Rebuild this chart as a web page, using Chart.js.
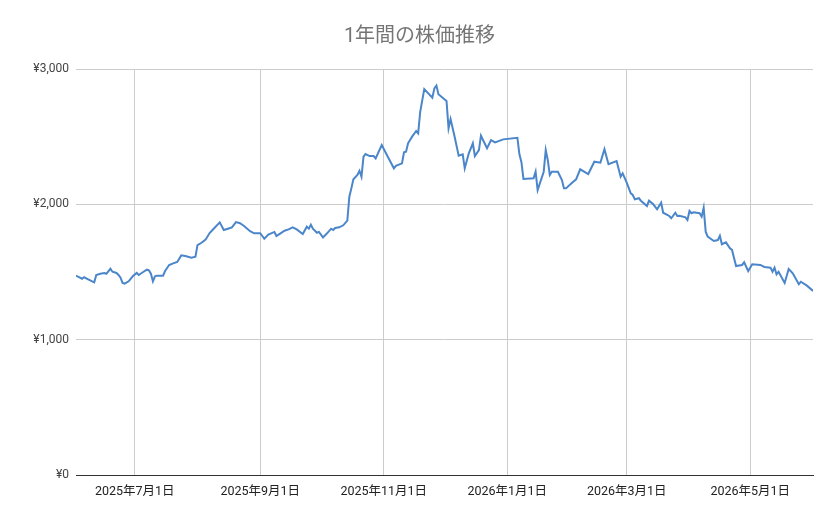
<!DOCTYPE html>
<html lang="ja">
<head>
  <meta charset="UTF-8" />
  <title>1年間の株価推移</title>
  <script src="https://cdn.jsdelivr.net/npm/chart.js"></script>
  <style>
    body {
      margin: 0;
      background: #fff;
    }
  </style>
</head>
<body>
  <canvas id="stockChart" width="839" height="519"></canvas>

  <script>
    const title = "1年間の株価推移";

    // 日付と終値(チャートから読み取り)
    const dates = [
      "2025-06-02", "2025-06-03", "2025-06-05", "2025-06-06", "2025-06-08", "2025-06-10", "2025-06-11", "2025-06-12",
      "2025-06-14", "2025-06-16", "2025-06-17", "2025-06-19", "2025-06-20", "2025-06-22", "2025-06-23", "2025-06-24",
      "2025-06-25", "2025-06-26", "2025-06-28", "2025-06-29", "2025-06-30", "2025-07-02", "2025-07-03", "2025-07-05",
      "2025-07-07", "2025-07-08", "2025-07-09", "2025-07-10", "2025-07-11", "2025-07-12", "2025-07-15", "2025-07-16",
      "2025-07-18", "2025-07-20", "2025-07-22", "2025-07-24", "2025-07-26", "2025-07-29", "2025-07-31", "2025-08-01",
      "2025-08-03", "2025-08-05", "2025-08-07", "2025-08-09", "2025-08-12", "2025-08-14", "2025-08-16", "2025-08-18",
      "2025-08-20", "2025-08-22", "2025-08-24", "2025-08-27", "2025-08-29", "2025-09-01", "2025-09-02", "2025-09-03",
      "2025-09-05", "2025-09-08", "2025-09-09", "2025-09-11", "2025-09-13", "2025-09-15", "2025-09-17", "2025-09-19",
      "2025-09-22", "2025-09-24", "2025-09-25", "2025-09-26", "2025-09-27", "2025-09-29", "2025-09-30", "2025-10-02",
      "2025-10-04", "2025-10-06", "2025-10-07", "2025-10-08", "2025-10-10", "2025-10-12", "2025-10-14", "2025-10-15",
      "2025-10-16", "2025-10-17", "2025-10-19", "2025-10-20", "2025-10-21", "2025-10-22", "2025-10-23", "2025-10-25",
      "2025-10-27", "2025-10-28", "2025-10-31", "2025-11-03", "2025-11-06", "2025-11-07", "2025-11-10", "2025-11-11",
      "2025-11-12", "2025-11-13", "2025-11-15", "2025-11-17", "2025-11-18", "2025-11-19", "2025-11-21", "2025-11-25",
      "2025-11-26", "2025-11-27", "2025-11-28", "2025-12-02", "2025-12-03", "2025-12-04", "2025-12-06", "2025-12-08",
      "2025-12-10", "2025-12-11", "2025-12-13", "2025-12-15", "2025-12-16", "2025-12-18", "2025-12-19", "2025-12-22",
      "2025-12-24", "2025-12-26", "2025-12-30", "2026-01-06", "2026-01-07", "2026-01-08", "2026-01-09", "2026-01-14",
      "2026-01-15", "2026-01-16", "2026-01-19", "2026-01-20", "2026-01-21", "2026-01-22", "2026-01-23", "2026-01-26",
      "2026-01-28", "2026-01-29", "2026-01-30", "2026-02-02", "2026-02-04", "2026-02-06", "2026-02-10", "2026-02-13",
      "2026-02-16", "2026-02-18", "2026-02-20", "2026-02-24", "2026-02-26", "2026-02-27", "2026-03-01", "2026-03-03",
      "2026-03-04", "2026-03-05", "2026-03-07", "2026-03-08", "2026-03-11", "2026-03-12", "2026-03-14", "2026-03-16",
      "2026-03-18", "2026-03-19", "2026-03-22", "2026-03-23", "2026-03-25", "2026-03-26", "2026-03-27", "2026-03-30",
      "2026-03-31", "2026-04-01", "2026-04-02", "2026-04-03", "2026-04-06", "2026-04-07", "2026-04-08", "2026-04-09",
      "2026-04-10", "2026-04-13", "2026-04-15", "2026-04-16", "2026-04-17", "2026-04-19", "2026-04-21", "2026-04-22",
      "2026-04-24", "2026-04-27", "2026-04-28", "2026-04-30", "2026-05-02", "2026-05-06", "2026-05-08", "2026-05-11",
      "2026-05-12", "2026-05-13", "2026-05-14", "2026-05-15", "2026-05-18", "2026-05-20", "2026-05-22", "2026-05-25",
      "2026-05-26", "2026-05-29", "2026-06-01"
    ];

    const prices = [
      1473, 1465, 1450, 1461, 1446, 1431, 1424, 1478,
      1487, 1493, 1487, 1524, 1502, 1493, 1478, 1458,
      1419, 1414, 1431, 1450, 1468, 1493, 1478, 1498,
      1517, 1513, 1487, 1431, 1468, 1473, 1473, 1507,
      1552, 1564, 1574, 1623, 1618, 1606, 1613, 1699,
      1716, 1739, 1788, 1820, 1867, 1810, 1820, 1830,
      1869, 1860, 1840, 1801, 1786, 1786, 1766, 1746,
      1776, 1796, 1766, 1786, 1805, 1815, 1830, 1815,
      1781, 1835, 1820, 1849, 1820, 1790, 1796, 1756,
      1786, 1820, 1810, 1825, 1830, 1845, 1879, 2056,
      2118, 2185, 2217, 2248, 2204, 2352, 2372, 2357,
      2357, 2340, 2438, 2352, 2266, 2285, 2303, 2384,
      2389, 2451, 2500, 2542, 2525, 2684, 2852, 2788,
      2857, 2877, 2813, 2763, 2562, 2630, 2500, 2359,
      2370, 2266, 2377, 2451, 2357, 2401, 2507, 2414,
      2475, 2458, 2480, 2492, 2370, 2311, 2187, 2192,
      2241, 2106, 2241, 2401, 2328, 2217, 2241, 2241,
      2180, 2118, 2118, 2160, 2185, 2259, 2224, 2315,
      2308, 2407, 2296, 2320, 2204, 2229, 2160, 2081,
      2069, 2037, 2045, 2027, 1988, 2027, 2002, 1963,
      2012, 1938, 1914, 1897, 1938, 1914, 1916, 1904,
      1884, 1951, 1934, 1941, 1934, 1909, 1975, 1798,
      1761, 1729, 1736, 1768, 1705, 1719, 1675, 1663,
      1544, 1552, 1572, 1507, 1557, 1552, 1537, 1532,
      1502, 1532, 1483, 1502, 1419, 1522, 1490, 1409,
      1428, 1399, 1360
    ];

    // 目盛り
    const xTickDates = ["2025-07-01", "2025-09-01", "2025-11-01", "2026-01-01", "2026-03-01", "2026-05-01"];
    const xTickLabels = ["2025年7月1日", "2025年9月1日", "2025年11月1日", "2026年1月1日", "2026年3月1日", "2026年5月1日"];
    const yTicks = [0, 1000, 2000, 3000];

    const FONT = "Roboto, 'Noto Sans CJK JP', sans-serif";
    const xValues = dates.map(d => Date.parse(d));
    const tickValues = xTickDates.map(d => Date.parse(d));

    const ctx = document.getElementById("stockChart").getContext("2d");
    new Chart(ctx, {
      type: "line",
      data: {
        datasets: [
          {
            label: "株価",
            data: xValues.map((x, i) => ({ x: x, y: prices[i] })),
            borderColor: "#4a86c9",
            borderWidth: 2,
            pointRadius: 0,
            tension: 0,
          },
        ],
      },
      options: {
        responsive: false,
        animation: false,
        layout: { padding: { left: 26, right: 26, top: 0, bottom: 14 } },
        plugins: {
          legend: { display: false },
          tooltip: { enabled: false },
          title: {
            display: true,
            text: title,
            color: "#757575",
            font: { family: FONT, size: 20, weight: "normal" },
            padding: { top: 25, bottom: 20 },
          },
        },
        scales: {
          x: {
            type: "linear",
            min: xValues[0],
            max: xValues[xValues.length - 1],
            afterBuildTicks: scale => {
              scale.ticks = tickValues.map(v => ({ value: v }));
            },
            afterFit: scale => {
              scale.height = 30;
            },
            grid: { color: "#cccccc", drawTicks: false },
            border: { display: true, color: "#333333", width: 1 },
            ticks: {
              padding: 9,
              maxRotation: 0,
              autoSkip: false,
              color: "#222222",
              font: { family: FONT, size: 12.5 },
              callback: value => xTickLabels[tickValues.indexOf(value)],
            },
          },
          y: {
            min: 0,
            max: 3000,
            afterBuildTicks: scale => {
              scale.ticks = yTicks.map(v => ({ value: v }));
            },
            afterFit: scale => {
              scale.width = 50;
            },
            grid: { color: "#cccccc", drawTicks: false },
            border: { display: false },
            ticks: {
              padding: 7,
              color: "#444444",
              font: { family: FONT, size: 12 },
              callback: value => "¥" + value.toLocaleString("en-US"),
            },
          },
        },
      },
    });
  </script>
</body>
</html>
